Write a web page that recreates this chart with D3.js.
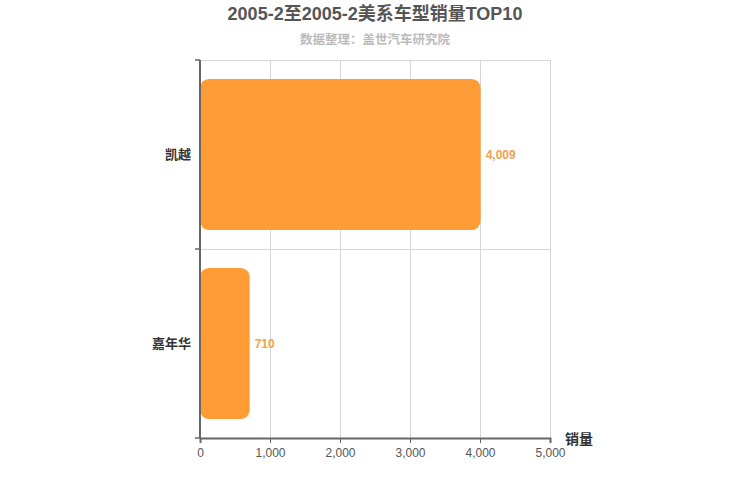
<!DOCTYPE html>
<html><head><meta charset="utf-8">
<script src="https://cdn.jsdelivr.net/npm/d3@7"></script>
<style>body{margin:0;background:#fff}svg{display:block}text{font-family:"Helvetica","Arial","Liberation Sans","Noto Sans CJK SC",sans-serif}</style>
</head><body>
<script>
const categories = ["凯越", "嘉年华"];
const values = [4009, 710];
const xTicks = [0, 1000, 2000, 3000, 4000, 5000];
const title = "2005-2至2005-2美系车型销量TOP10";
const subtitle = "数据整理：盖世汽车研究院";
const axisName = "销量";

const W = 750, H = 500;
const svg = d3.select("body").append("svg").attr("width", W).attr("height", H);
const m = {left: 200, right: 200, top: 60, bottom: 62};
const x = d3.scaleLinear().domain([0, 5000]).range([m.left, W - m.right]);
const y = d3.scaleBand().domain(categories).range([m.top, H - m.bottom]).paddingInner(0.2).paddingOuter(0.1);
const y0 = m.top, y1 = H - m.bottom;

// grid vertical
svg.append("g").selectAll("line").data(xTicks.slice(1)).join("line")
  .attr("x1", d => x(d)).attr("x2", d => x(d)).attr("y1", y0).attr("y2", y1)
  .attr("stroke", "#d6d6d6").attr("stroke-width", 1).attr("shape-rendering","crispEdges");
// grid horizontal at band boundaries
const bounds = d3.range(categories.length).map(i => y0 + i * (y1 - y0) / categories.length);
svg.append("g").selectAll("line").data(bounds).join("line")
  .attr("x1", x(0)).attr("x2", x(5000)).attr("y1", d => d).attr("y2", d => d)
  .attr("stroke", "#d6d6d6").attr("stroke-width", 1).attr("shape-rendering","crispEdges");

// bars
svg.append("g").selectAll("rect").data(values).join("rect")
  .attr("x", x(0)).attr("y", (d, i) => y(categories[i]))
  .attr("width", d => x(d) - x(0)).attr("height", y.bandwidth())
  .attr("rx", 9).attr("ry", 9).attr("fill", "#ff9c35");

// value labels
svg.append("g").selectAll("text").data(values).join("text")
  .attr("x", d => x(d) + 5).attr("y", (d, i) => y(categories[i]) + y.bandwidth() / 2)
  .attr("dy", "0.35em").attr("font-size", 12).attr("font-weight", "bold")
  .attr("fill", "#f5a04a").text(d => d3.format(",")(d));

// x axis
const xa = svg.append("g").attr("transform", `translate(0,${y1})`)
  .call(d3.axisBottom(x).tickValues(xTicks).tickFormat(d3.format(",")).tickSize(5));
xa.select(".domain").attr("stroke", "#666").attr("stroke-width", 2);
xa.selectAll(".tick line").attr("stroke", "#666");
xa.selectAll(".tick text").attr("fill", "#555").attr("font-size", 12).attr("dy", "0.95em");

// y axis
const tickPos = d3.range(categories.length + 1).map(i => y0 + i * (y1 - y0) / categories.length);
svg.append("line").attr("x1", x(0)).attr("x2", x(0)).attr("y1", y0).attr("y2", y1)
  .attr("stroke", "#666").attr("stroke-width", 2);
svg.append("g").selectAll("line").data(tickPos).join("line")
  .attr("x1", x(0) - 5).attr("x2", x(0)).attr("y1", d => d).attr("y2", d => d)
  .attr("stroke", "#666").attr("stroke-width", 1.5);
svg.append("g").selectAll("text").data(categories).join("text")
  .attr("x", x(0) - 9).attr("y", d => y(d) + y.bandwidth() / 2).attr("dy", "0.35em")
  .attr("text-anchor", "end").attr("font-size", 13).attr("font-weight", "bold")
  .attr("fill", "#333").text(d => d);

// axis name
svg.append("text").attr("x", x(5000) + 15).attr("y", y1 + 6).attr("font-size", 14)
  .attr("font-weight", "bold").attr("fill", "#333").text(axisName);

// title
svg.append("text").attr("x", W / 2).attr("y", 20).attr("text-anchor", "middle")
  .attr("font-size", 18).attr("font-weight", "bold").attr("fill", "#555").text(title);
svg.append("text").attr("x", W / 2).attr("y", 44).attr("text-anchor", "middle")
  .attr("font-size", 12.5).attr("font-weight", "bold").attr("fill", "#bbb").text(subtitle);
</script>
</body></html>
